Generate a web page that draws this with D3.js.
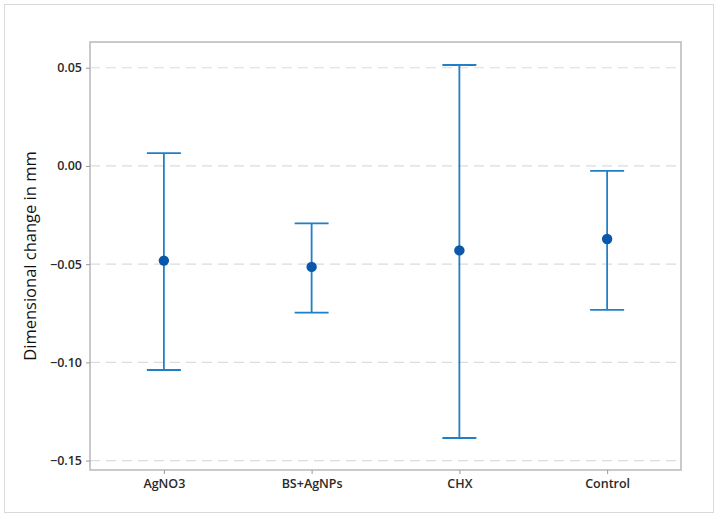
<!DOCTYPE html>
<html><head><meta charset="utf-8">
<script src="https://cdn.jsdelivr.net/npm/d3@7"></script>
<style>body{margin:0;background:#fff}svg{display:block}</style>
</head><body>
<script>
const categories = ["AgNO3", "BS+AgNPs", "CHX", "Control"];
const means = [-0.0482, -0.0514, -0.0430, -0.0372];
const upper = [0.0065, -0.0292, 0.0514, -0.0025];
const lower = [-0.1039, -0.0747, -0.1385, -0.0733];
const yTicks = [0.05, 0.00, -0.05, -0.10, -0.15];
const yLabel = "Dimensional change in mm";

const W = 720, H = 519;
const m = {left: 90, right: 39, top: 42, bottom: 49};
const svg = d3.select("body").append("svg").attr("width", W).attr("height", H);
svg.append("rect").attr("x", 4.5).attr("y", 4.5).attr("width", 709).attr("height", 508)
  .attr("fill", "#fff").attr("stroke", "#d9d9d9");

const x = d3.scalePoint().domain(categories).range([m.left, W - m.right]).padding(0.5);
const y = d3.scaleLinear().domain([-0.1548, 0.0631]).range([H - m.bottom, m.top]);

const g = svg.append("g");
g.selectAll("line.grid").data(yTicks).join("line").attr("class", "grid")
  .attr("x1", m.left).attr("x2", W - m.right)
  .attr("y1", d => y(d)).attr("y2", d => y(d))
  .attr("stroke", "#dcdcdc").attr("stroke-width", 1.2).attr("stroke-dasharray", "10,6");

g.append("rect").attr("x", m.left).attr("y", m.top)
  .attr("width", W - m.right - m.left).attr("height", H - m.bottom - m.top)
  .attr("fill", "none").attr("stroke", "#b8b8b8").attr("stroke-width", 1.5);

const yAxis = svg.append("g").attr("transform", `translate(${m.left},0)`)
  .call(d3.axisLeft(y).tickValues(yTicks).tickFormat(d3.format(".2f")).tickSize(4).tickSizeOuter(0));
yAxis.select(".domain").remove();
yAxis.selectAll("line").attr("stroke", "#999");
yAxis.selectAll("text").attr("font-family", "Open Sans, sans-serif").attr("font-size", 12.5)
  .attr("font-weight", 600).attr("fill", "#2a2a2a").attr("dx", -1);

const xAxis = svg.append("g").attr("transform", `translate(0,${H - m.bottom})`)
  .call(d3.axisBottom(x).tickSize(4).tickSizeOuter(0));
xAxis.select(".domain").remove();
xAxis.selectAll("line").attr("stroke", "#999");
xAxis.selectAll("text").attr("font-family", "Open Sans, sans-serif").attr("font-size", 12.5)
  .attr("font-weight", 600).attr("fill", "#2a2a2a").attr("dy", "0.9em");

svg.append("text").attr("transform", `translate(36,${(m.top + H - m.bottom) / 2}) rotate(-90)`)
  .attr("text-anchor", "middle").attr("font-family", "Open Sans, sans-serif")
  .attr("font-size", 16.5).attr("font-weight", 500).attr("fill", "#111").text(yLabel);

const data = categories.map((c, i) => ({c, m: means[i], u: upper[i], l: lower[i]}));
const col = "#1f80c8", cap = 17;
const eb = svg.append("g");
eb.selectAll("line.v").data(data).join("line")
  .attr("x1", d => x(d.c)).attr("x2", d => x(d.c))
  .attr("y1", d => y(d.u)).attr("y2", d => y(d.l)).attr("stroke", col).attr("stroke-width", 1.8);
eb.selectAll("line.u").data(data).join("line")
  .attr("x1", d => x(d.c) - cap).attr("x2", d => x(d.c) + cap)
  .attr("y1", d => y(d.u)).attr("y2", d => y(d.u)).attr("stroke", col).attr("stroke-width", 1.8);
eb.selectAll("line.l").data(data).join("line")
  .attr("x1", d => x(d.c) - cap).attr("x2", d => x(d.c) + cap)
  .attr("y1", d => y(d.l)).attr("y2", d => y(d.l)).attr("stroke", col).attr("stroke-width", 1.8);
eb.selectAll("circle").data(data).join("circle")
  .attr("cx", d => x(d.c)).attr("cy", d => y(d.m)).attr("r", 5.2).attr("fill", "#0b57a8");
</script>
</body></html>
